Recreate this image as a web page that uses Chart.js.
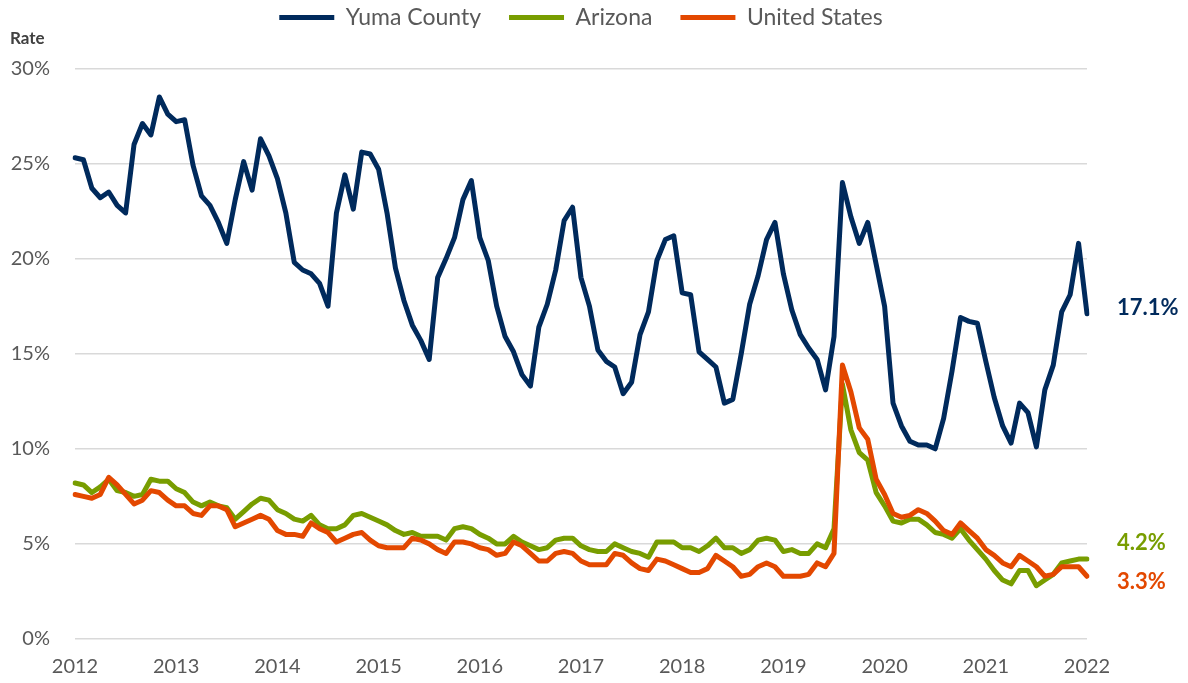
<!DOCTYPE html>
<html>
<head>
<meta charset="utf-8">
<script src="https://cdn.jsdelivr.net/npm/chart.js@4.4.1/dist/chart.umd.min.js"></script>
<style>
    html, body { margin: 0; padding: 0; background: #fff; }
    #wrap { width: 1188px; height: 683px; }
</style>
</head>
<body>
<div id="wrap"><canvas id="rate" width="1188" height="683"></canvas></div>
<script>

/* =================================================================
    Data (monthly, Jan 2012 - Jan 2022)
================================================================= */

var months = [];
for (var yr = 2012; yr <= 2022; yr++) {
    for (var m = 1; m <= 12; m++) {
        if (yr === 2022 && m > 1) break;
        months.push(yr + "-" + (m < 10 ? "0" + m : m));
    }
}

var yuma = [
    25.3, 25.2, 23.7, 23.2, 23.5, 22.8, 22.4, 26.0, 27.1, 26.5, 28.5, 27.6,
    27.2, 27.3, 24.9, 23.3, 22.8, 21.9, 20.8, 23.1, 25.1, 23.6, 26.3, 25.4,
    24.2, 22.4, 19.8, 19.4, 19.2, 18.7, 17.5, 22.4, 24.4, 22.6, 25.6, 25.5,
    24.7, 22.4, 19.5, 17.8, 16.5, 15.7, 14.7, 19.0, 20.0, 21.1, 23.1, 24.1,
    21.1, 19.9, 17.5, 15.9, 15.1, 13.9, 13.3, 16.4, 17.6, 19.4, 22.0, 22.7,
    19.0, 17.5, 15.2, 14.6, 14.3, 12.9, 13.5, 16.0, 17.2, 19.9, 21.0, 21.2,
    18.2, 18.1, 15.1, 14.7, 14.3, 12.4, 12.6, 15.0, 17.6, 19.1, 21.0, 21.9,
    19.2, 17.3, 16.0, 15.3, 14.7, 13.1, 15.9, 24.0, 22.2, 20.8, 21.9, 19.7,
    17.5, 12.4, 11.2, 10.4, 10.2, 10.2, 10.0, 11.6, 14.1, 16.9, 16.7, 16.6,
    14.6, 12.7, 11.2, 10.3, 12.4, 11.9, 10.1, 13.1, 14.4, 17.2, 18.1, 20.8,
    17.1
];

var arizona = [
    8.2, 8.1, 7.7, 8.0, 8.4, 7.8, 7.7, 7.5, 7.6, 8.4, 8.3, 8.3,
    7.9, 7.7, 7.2, 7.0, 7.2, 7.0, 6.9, 6.3, 6.7, 7.1, 7.4, 7.3,
    6.8, 6.6, 6.3, 6.2, 6.5, 6.0, 5.8, 5.8, 6.0, 6.5, 6.6, 6.4,
    6.2, 6.0, 5.7, 5.5, 5.6, 5.4, 5.4, 5.4, 5.2, 5.8, 5.9, 5.8,
    5.5, 5.3, 5.0, 5.0, 5.4, 5.1, 4.9, 4.7, 4.8, 5.2, 5.3, 5.3,
    4.9, 4.7, 4.6, 4.6, 5.0, 4.8, 4.6, 4.5, 4.3, 5.1, 5.1, 5.1,
    4.8, 4.8, 4.6, 4.9, 5.3, 4.8, 4.8, 4.5, 4.7, 5.2, 5.3, 5.2,
    4.6, 4.7, 4.5, 4.5, 5.0, 4.8, 5.8, 13.4, 11.0, 9.8, 9.4, 7.7,
    7.0, 6.2, 6.1, 6.3, 6.3, 6.0, 5.6, 5.5, 5.3, 5.8, 5.2, 4.7,
    4.2, 3.6, 3.1, 2.9, 3.6, 3.6, 2.8, 3.1, 3.4, 4.0, 4.1, 4.2,
    4.2
];

var unitedStates = [
    7.6, 7.5, 7.4, 7.6, 8.5, 8.1, 7.6, 7.1, 7.3, 7.8, 7.7, 7.3,
    7.0, 7.0, 6.6, 6.5, 7.0, 7.0, 6.8, 5.9, 6.1, 6.3, 6.5, 6.3,
    5.7, 5.5, 5.5, 5.4, 6.1, 5.8, 5.6, 5.1, 5.3, 5.5, 5.6, 5.2,
    4.9, 4.8, 4.8, 4.8, 5.3, 5.2, 5.0, 4.7, 4.5, 5.1, 5.1, 5.0,
    4.8, 4.7, 4.4, 4.5, 5.1, 4.9, 4.5, 4.1, 4.1, 4.5, 4.6, 4.5,
    4.1, 3.9, 3.9, 3.9, 4.5, 4.4, 4.0, 3.7, 3.6, 4.2, 4.1, 3.9,
    3.7, 3.5, 3.5, 3.7, 4.4, 4.1, 3.8, 3.3, 3.4, 3.8, 4.0, 3.8,
    3.3, 3.3, 3.3, 3.4, 4.0, 3.8, 4.5, 14.4, 13.0, 11.1, 10.5, 8.4,
    7.6, 6.6, 6.4, 6.5, 6.8, 6.6, 6.2, 5.7, 5.5, 6.1, 5.7, 5.3,
    4.7, 4.4, 4.0, 3.8, 4.4, 4.1, 3.8, 3.3, 3.4, 3.8, 3.8, 3.8,
    3.3
];

var yTicks = [0, 5, 10, 15, 20, 25, 30];

/* =================================================================
    Labels at line ends
================================================================= */

var endLabels = {
    id: "endLabels",
    afterDatasetsDraw: function (chart) {
        var ctx = chart.ctx;
        var xs = chart.scales.x;
        var ys = chart.scales.y;
        chart.data.datasets.forEach(function (ds) {
            var last = ds.data.length - 1;
            ctx.save();
            ctx.font = "bold 22px Lato";
            ctx.fillStyle = ds.borderColor;
            ctx.textBaseline = "middle";
            ctx.fillText(ds.data[last].toFixed(1) + "%",
                xs.getPixelForValue(last) + 30,
                ys.getPixelForValue(ds.data[last]) + ds.labelNudge);
            ctx.restore();
        });
    }
};

/* =================================================================
    Line chart
================================================================= */

var ctx = document.getElementById("rate");

function series(label, values, color, nudge, order) {
    return {
        label: label,
        data: values,
        borderColor: color,
        backgroundColor: color,
        pointBorderColor: color,
        pointBackgroundColor: color,
        pointBorderWidth: 5,
        labelNudge: nudge,
        order: order
    };
}

var data = {
    labels: months,
    datasets: [
        series("Yuma County", yuma, "#002a5c", -6, 2),
        series("Arizona", arizona, "#789d00", -16, 1),
        series("United States", unitedStates, "#e34800", 6, 0)
    ]
};

var myChart = new Chart(ctx, {
    type: "line",
    data: data,
    plugins: [endLabels],
    options: {
        responsive: false,
        animation: false,
        layout: { padding: { top: -22, right: 101, bottom: 0, left: 10 } },
        elements: {
            point: { radius: 0 },
            line: { borderWidth: 5, tension: 0, borderJoinStyle: "round", borderCapStyle: "round" }
        },
        plugins: {
            tooltip: { enabled: false },
            legend: {
                position: "top",
                fullSize: false,
                maxHeight: 50,
                labels: {
                    usePointStyle: true,
                    pointStyle: "line",
                    pointStyleWidth: 55,
                    padding: 28,
                    color: "#595959",
                    font: { family: "Lato", size: 23 },
                    sort: function (a, b) { return a.datasetIndex - b.datasetIndex; }
                }
            },
            title: {
                display: true,
                text: "Rate",
                position: "top",
                align: "start",
                weight: 500,
                color: "#404040",
                font: { family: "Lato", size: 17, weight: "bold" },
                padding: { top: 0, bottom: 20 }
            }
        },
        scales: {
            x: {
                grid: { display: false },
                border: { display: false },
                ticks: {
                    autoSkip: false,
                    maxRotation: 0,
                    padding: 8,
                    color: "#595959",
                    font: { family: "Lato", size: 20 },
                    callback: function (val, idx) {
                        return idx % 12 === 0 ? months[idx].slice(0, 4) : null;
                    }
                },
                afterFit: function (scale) { scale.height = 44; }
            },
            y: {
                min: yTicks[0],
                max: yTicks[yTicks.length - 1],
                border: { display: false },
                grid: { color: "#d9d9d9", lineWidth: 1.5, drawTicks: false },
                afterBuildTicks: function (scale) {
                    scale.ticks = yTicks.map(function (v) { return { value: v }; });
                },
                ticks: {
                    padding: 25,
                    color: "#595959",
                    font: { family: "Lato", size: 20 },
                    callback: function (v) { return v + "%"; }
                },
                afterFit: function (scale) { scale.width = 65; }
            }
        }
    }
});
</script>
</body>
</html>
